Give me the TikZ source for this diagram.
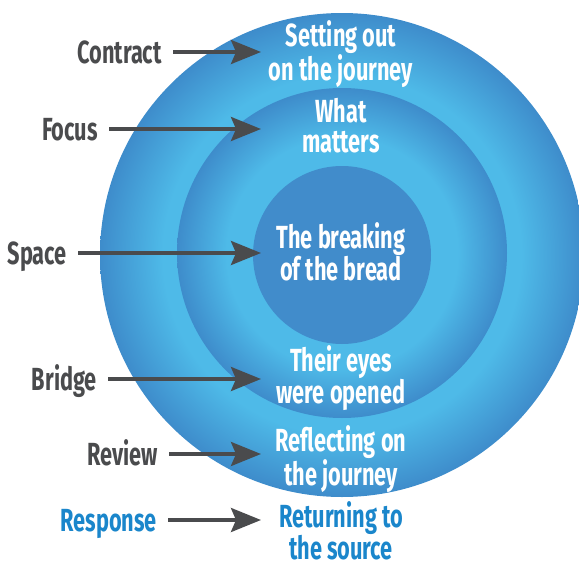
\documentclass[tikz,border=0pt]{standalone}
\usepackage{fontspec}
\setmainfont{Fira Sans}[FakeStretch=0.68]
\usetikzlibrary{arrows.meta}

\definecolor{labelgray}{HTML}{4A4B4D}
\definecolor{respblue}{HTML}{1A86CB}
\definecolor{ringdark}{HTML}{3E8CCB}
\definecolor{ringlight}{HTML}{4EBAE8}
\definecolor{coreblue}{HTML}{418CCB}

% light inside, dark at the rim (the rim sits at 25bp)
\pgfdeclareradialshading{outerring}{\pgfpoint{0bp}{0bp}}{color(0bp)=(ringlight); color(18.5bp)=(ringlight); color(25bp)=(ringdark); color(50bp)=(ringdark)}
\pgfdeclareradialshading{middlering}{\pgfpoint{0bp}{0bp}}{color(0bp)=(ringlight); color(17.5bp)=(ringlight); color(25bp)=(ringdark); color(50bp)=(ringdark)}

\tikzset{
  bigtext/.style={font=\bfseries\fontsize{32}{30}\selectfont},
  stage/.style={bigtext, anchor=east, inner xsep=11pt, inner ysep=0pt, text height=22pt, text depth=0pt, text=labelgray},
  ring/.style={bigtext, text=white, align=center, anchor=north, inner sep=0pt},
  pointer/.style={draw=labelgray, line width=3.5pt, -{Stealth[length=30pt,width=24pt,inset=5pt]}}
}

\begin{document}
\begin{tikzpicture}[x=1pt,y=-1pt]
\useasboundingbox (0,0) rectangle (579,562);
\clip (0,0) rectangle (579,562);
% The three circles
\shade[shading=outerring] (342,255) circle[radius=242pt];
\shade[shading=middlering] (342,253) circle[radius=165pt];
\fill[coreblue] (342,255) circle[radius=89pt];

% Texts inside the circles
\node[ring] (journey) at (341,20) {Setting out\\on the journey};
\node[ring] (matters) at (341,98) {What\\matters};
\node[ring] (bread) at (341,222) {The breaking\\of the bread};
\node[ring] (eyes) at (341,345) {Their eyes\\were opened};
\node[ring] (reflect) at (341,425) {Reflecting on\\the journey};
\node[ring, text=respblue] (source) at (341,501) {Returning to\\the source};

% Stage names on the left
\node[stage] (contract) at (173,52) {Contract};
\node[stage] (focus) at (109,129) {Focus};
\node[stage] (space) at (78,253) {Space};
\node[stage] (bridge) at (108,379) {Bridge};
\node[stage] (review) at (169,454) {Review};
\node[stage, text=respblue] (response) at (168,520) {Response};

% Arrows all end on the same vertical
\coordinate (tip) at (261,0);
\foreach \n in {contract,focus,space,bridge,review,response}
{
  \draw[pointer] (\n.east) -- (\n.east -| tip);
}
\end{tikzpicture}
\end{document}
